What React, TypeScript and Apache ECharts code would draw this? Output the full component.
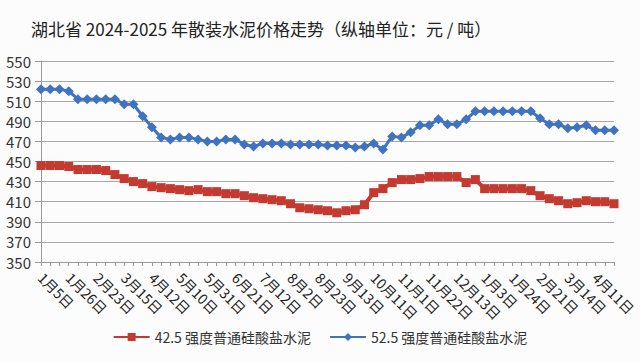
import React, { useEffect, useRef } from "react";
import * as echarts from "echarts";

const titleText = "湖北省 2024-2025 年散装水泥价格走势（纵轴单位：元 / 吨）";
const seriesNames = ["42.5 强度普通硅酸盐水泥", "52.5 强度普通硅酸盐水泥"];
const tickLabels = [
  "1月5日", "1月26日", "2月23日", "3月15日", "4月12日", "5月10日", "5月31日",
  "6月21日", "7月12日", "8月2日", "8月23日", "9月13日", "10月11日", "11月1日",
  "11月22日", "12月13日", "1月3日", "1月24日", "2月21日", "3月14日", "4月11日",
];
const price425 = [
  446, 446, 446, 445, 442, 442, 442, 441, 437, 433, 430, 428, 425, 424, 423, 422,
  421, 422, 420, 420, 418, 418, 416, 414, 413, 412, 411, 408, 404, 403, 402, 401,
  399, 401, 402, 407, 419, 423, 429, 432, 432, 433, 435, 435, 435, 435, 429, 432,
  423, 423, 423, 423, 423, 421, 416, 413, 411, 408, 409, 411, 410, 410, 408,
];
const price525 = [
  522, 522, 522, 520, 512, 512, 512, 512, 512, 507, 507, 495, 484, 474, 472, 474,
  474, 472, 470, 470, 472, 472, 467, 465, 468, 468, 468, 467, 467, 467, 467, 466,
  466, 466, 464, 465, 468, 462, 475, 474, 479, 486, 486, 492, 487, 487, 492, 500,
  500, 500, 500, 500, 500, 500, 493, 487, 487, 483, 484, 486, 481, 481, 481,
];
const labelEvery = 3;

export default function App() {
  const ref = useRef<HTMLDivElement>(null);
  useEffect(() => {
    if (!ref.current) return;
    const chart = echarts.init(ref.current, null, { renderer: "svg" });
    const categories = price525.map((_, i) =>
      i % labelEvery === 0 ? tickLabels[i / labelEvery] ?? "" : ""
    );
    const font = "'Noto Sans CJK SC', 'Noto Sans', sans-serif";
    chart.setOption({
      animation: false,
      backgroundColor: "#fcfcfc",
      textStyle: { fontFamily: font },
      title: {
        text: titleText,
        left: 26,
        top: 15,
        textStyle: { fontSize: 17, fontWeight: "normal", color: "#222", fontFamily: font },
      },
      grid: { left: 41, right: 26, top: 61, bottom: 100, containLabel: false },
      legend: {
        bottom: 13,
        left: "center",
        itemWidth: 36,
        itemHeight: 10,
        itemGap: 18,
        textStyle: { fontSize: 14, color: "#333", fontFamily: font },
        data: seriesNames,
      },
      xAxis: {
        type: "category",
        boundaryGap: false,
        data: categories,
        axisLine: { lineStyle: { color: "#999", width: 1 } },
        axisTick: { show: true, interval: 0, length: 4, lineStyle: { color: "#999" } },
        axisLabel: {
          interval: labelEvery - 1,
          rotate: -45,
          fontSize: 14,
          color: "#222",
          margin: 13,
          fontFamily: font,
        },
        splitLine: { show: false },
      },
      yAxis: {
        type: "value",
        min: 350,
        max: 550,
        interval: 20,
        axisLine: { show: true, lineStyle: { color: "#999" } },
        axisTick: { show: true, length: 6, lineStyle: { color: "#999" } },
        axisLabel: { fontSize: 15, color: "#333", margin: 10, fontFamily: font },
        splitLine: { lineStyle: { color: "#a8a8a8", width: 1 } },
      },
      series: [
        {
          name: seriesNames[0],
          type: "line",
          data: price425,
          symbol: "rect",
          symbolSize: 9,
          showAllSymbol: true,
          itemStyle: { color: "#c43a31" },
          lineStyle: { color: "#c43a31", width: 4 },
        },
        {
          name: seriesNames[1],
          type: "line",
          data: price525,
          symbol: "diamond",
          symbolSize: 10,
          showAllSymbol: true,
          itemStyle: { color: "#3f72c0" },
          lineStyle: { color: "#3f72c0", width: 3 },
        },
      ],
    });
    return () => chart.dispose();
  }, []);
  return (
    <div
      ref={ref}
      style={{ position: "fixed", left: 0, top: 0, width: 640, height: 362 }}
    />
  );
}
